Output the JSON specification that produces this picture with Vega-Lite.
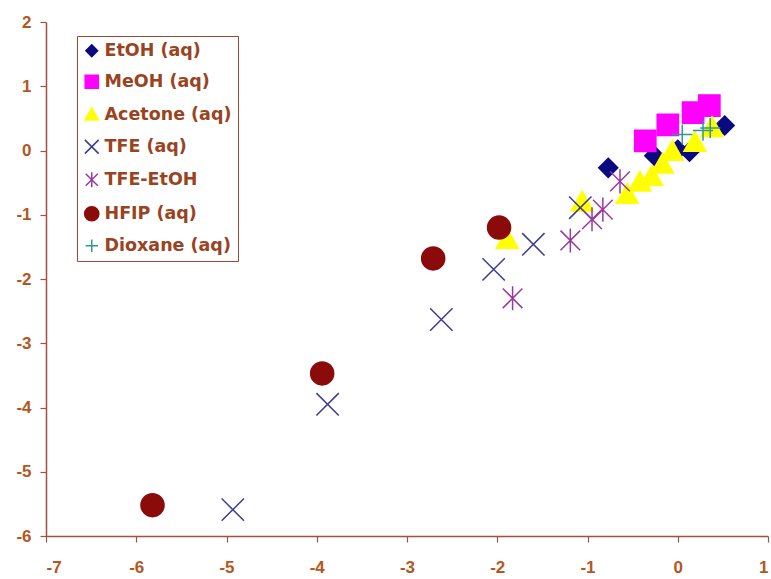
{
  "$schema": "https://vega.github.io/schema/vega-lite/v6.json",
  "width": 722,
  "height": 514,
  "autosize": {"type": "none"},
  "padding": {"left": 46, "top": 22, "right": 3, "bottom": 43},
  "background": "white",
  "config": {
    "view": {"stroke": null},
    "axis": {
      "grid": false,
      "domainColor": "#A0523F",
      "domainWidth": 1.5,
      "tickColor": "#A0523F",
      "tickWidth": 1.2,
      "tickSize": 6,
      "labelColor": "#B5561F",
      "labelFont": "Liberation Sans",
      "labelFontWeight": "bold",
      "labelFontSize": 17
    },
    "axisX": {"labelPadding": 17},
    "axisY": {"labelPadding": 9}
  },
  "data": {
    "values": [
      {"series": "EtOH (aq)", "x": -0.77, "y": -0.27},
      {"series": "EtOH (aq)", "x": -0.26, "y": -0.08},
      {"series": "EtOH (aq)", "x": 0.0, "y": 0.01},
      {"series": "EtOH (aq)", "x": 0.13, "y": -0.02},
      {"series": "EtOH (aq)", "x": 0.52, "y": 0.39},
      {"series": "MeOH (aq)", "x": -0.36, "y": 0.15},
      {"series": "MeOH (aq)", "x": -0.11, "y": 0.40},
      {"series": "MeOH (aq)", "x": 0.17, "y": 0.59},
      {"series": "MeOH (aq)", "x": 0.35, "y": 0.70},
      {"series": "Acetone (aq)", "x": -1.89, "y": -1.39},
      {"series": "Acetone (aq)", "x": -1.06, "y": -0.81},
      {"series": "Acetone (aq)", "x": -0.56, "y": -0.69},
      {"series": "Acetone (aq)", "x": -0.42, "y": -0.50},
      {"series": "Acetone (aq)", "x": -0.29, "y": -0.41},
      {"series": "Acetone (aq)", "x": -0.17, "y": -0.22},
      {"series": "Acetone (aq)", "x": -0.06, "y": -0.02},
      {"series": "Acetone (aq)", "x": 0.19, "y": 0.12},
      {"series": "Acetone (aq)", "x": 0.38, "y": 0.35},
      {"series": "TFE (aq)", "x": -4.93, "y": -5.59},
      {"series": "TFE (aq)", "x": -3.88, "y": -3.95},
      {"series": "TFE (aq)", "x": -2.62, "y": -2.63},
      {"series": "TFE (aq)", "x": -2.04, "y": -1.85},
      {"series": "TFE (aq)", "x": -1.60, "y": -1.46},
      {"series": "TFE (aq)", "x": -1.08, "y": -0.89},
      {"series": "TFE-EtOH", "x": -1.83, "y": -2.30},
      {"series": "TFE-EtOH", "x": -1.19, "y": -1.40},
      {"series": "TFE-EtOH", "x": -0.95, "y": -1.07},
      {"series": "TFE-EtOH", "x": -0.83, "y": -0.92},
      {"series": "TFE-EtOH", "x": -0.64, "y": -0.48},
      {"series": "HFIP (aq)", "x": -5.82, "y": -5.52},
      {"series": "HFIP (aq)", "x": -3.94, "y": -3.47},
      {"series": "HFIP (aq)", "x": -2.71, "y": -1.68},
      {"series": "HFIP (aq)", "x": -1.98, "y": -1.20},
      {"series": "Dioxane (aq)", "x": 0.05, "y": 0.25},
      {"series": "Dioxane (aq)", "x": 0.28, "y": 0.31},
      {"series": "Dioxane (aq)", "x": 0.36, "y": 0.35}
    ]
  },
  "mark": {"type": "point", "opacity": 1, "strokeWidth": 1.5, "size": 500},
  "encoding": {
    "x": {
      "field": "x",
      "type": "quantitative",
      "scale": {"domain": [-7, 1], "nice": false, "zero": false},
      "axis": {"title": null, "values": [-7, -6, -5, -4, -3, -2, -1, 0, 1], "labelExpr": "'' + datum.value"}
    },
    "y": {
      "field": "y",
      "type": "quantitative",
      "scale": {"domain": [-6, 2], "nice": false, "zero": false},
      "axis": {"title": null, "values": [-6, -5, -4, -3, -2, -1, 0, 1, 2], "labelExpr": "'' + datum.value"}
    },
    "shape": {
      "field": "series",
      "type": "nominal",
      "title": null,
      "scale": {
        "domain": ["EtOH (aq)", "MeOH (aq)", "Acetone (aq)", "TFE (aq)", "TFE-EtOH", "HFIP (aq)", "Dioxane (aq)"],
        "range": [
          "M0,-0.85L0.85,0L0,0.85L-0.85,0Z",
          "M-0.95,-0.95L0.95,-0.95L0.95,0.95L-0.95,0.95Z",
          "M0,-1L0.98,0.75L-0.98,0.75Z",
          "M-1,-1L1,1M-1,1L1,-1",
          "M-0.88,-0.88L0.88,0.88M-0.88,0.88L0.88,-0.88M0,-1.08L0,1.08",
          "M-1.03,0A1.03,1.03,0,1,0,1.03,0A1.03,1.03,0,1,0,-1.03,0Z",
          "M-0.9,0L0.9,0M0,-0.9L0,0.9"
        ]
      },
      "legend": {
        "title": null,
        "orient": "none",
        "legendX": 31,
        "legendY": 14,
        "strokeColor": "#9A4A35",
        "fillColor": "white",
        "padding": 6,
        "labelFont": "DejaVu Sans",
        "labelFontWeight": "bold",
        "labelFontSize": 17.5,
        "labelColor": "#9A431E",
        "symbolSize": 190,
        "symbolStrokeWidth": 1.5,
        "rowPadding": 12,
        "labelOffset": 4,
        "encode": {
          "legend": {"update": {"strokeWidth": {"value": 1.5}}}
        }
      }
    },
    "fill": {
      "field": "series",
      "type": "nominal",
      "title": null,
      "scale": {
        "domain": ["EtOH (aq)", "MeOH (aq)", "Acetone (aq)", "TFE (aq)", "TFE-EtOH", "HFIP (aq)", "Dioxane (aq)"],
        "range": ["#0A0A80", "#FF00FF", "#FFFF00", "transparent", "transparent", "#8B0A0A", "transparent"]
      }
    },
    "stroke": {
      "field": "series",
      "type": "nominal",
      "title": null,
      "scale": {
        "domain": ["EtOH (aq)", "MeOH (aq)", "Acetone (aq)", "TFE (aq)", "TFE-EtOH", "HFIP (aq)", "Dioxane (aq)"],
        "range": ["#0A0A80", "#FF00FF", "#FFFF00", "#3C3C96", "#9A3A9E", "#8B0A0A", "#2E9A96"]
      }
    }
  }
}
